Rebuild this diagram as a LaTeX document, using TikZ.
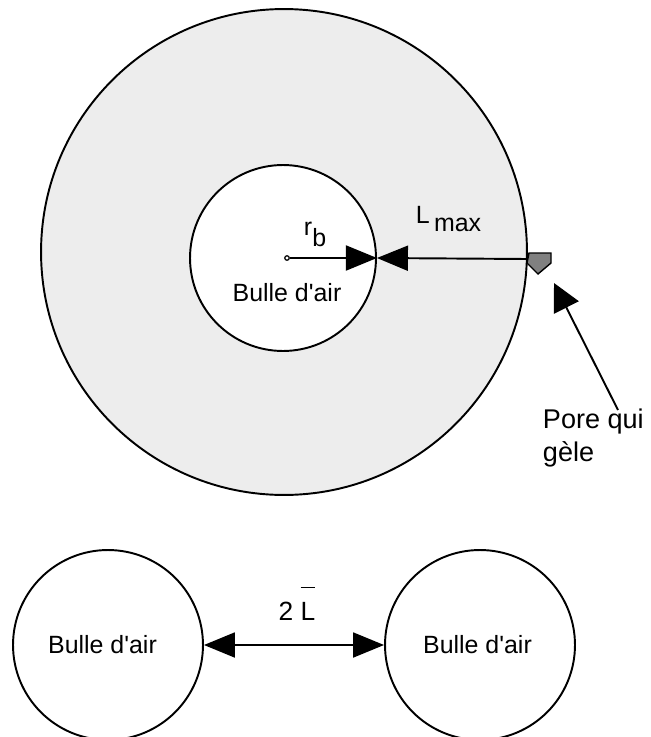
\documentclass[tikz,border=0pt]{standalone}
\usepackage{fontspec}
\setmainfont{Liberation Sans}
\usetikzlibrary{arrows.meta}

\begin{document}
\begin{tikzpicture}[x=0.02cm, y=-0.02cm, line width=1.1pt,
  every node/.style={font=\fontsize{14.2}{17}\selectfont},
  bulle/.style={circle, draw=black, fill=white, inner sep=0pt},
  fleche/.style={-{Triangle[length=0.62cm, width=0.5cm]}},
  doublefleche/.style={{Triangle[length=0.62cm, width=0.5cm]}-{Triangle[length=0.62cm, width=0.5cm]}}]

\useasboundingbox (0,0) rectangle (650,737);

% Pate de ciment autour de la bulle
\node (pate) [circle, draw=black, fill=black!7, minimum size=9.72cm] at (284,252) {};
\node (bulle) [bulle, minimum size=3.72cm] at (283,258) {};
\node (txtbulle) at (287,293) {Bulle d\textquotesingle air};

% Rayon de la bulle
\node (centre) [circle, draw=black, fill=white, inner sep=0pt, minimum size=0.09cm, line width=0.7pt] at (287,258) {};
\node (rb) [anchor=base west, inner sep=0pt] at (303,235) {r\raisebox{-0.24cm}{b}};
\draw[fleche] (centre) -- (bulle.east);

% Pore qui gele
\coordinate (pore) at (527,259);
\draw[fleche] (pore) -- (bulle.east);
\filldraw[fill=black!50, draw=black, line width=0.8pt] (pore) ++(2,-6) -- ++(22,0) -- ++(0,10) -- ++(-13,11) -- ++(-11,-11) -- cycle;
\node (lmax) [anchor=base west, inner sep=0pt] at (415,223) {L\,\raisebox{-0.16cm}{max}};

\node (txtpore) [anchor=north west, align=left, inner sep=0pt,
  font=\fontsize{15.4}{18.8}\selectfont] at (542,408) {Pore qui\\gèle};
\coordinate (queue) at (618,410);
\coordinate (pointe) at (554,283);
\draw[-{Triangle[length=0.55cm, width=0.55cm]}] (queue) -- (pointe);

% Deux bulles voisines
\node (bulleG) [bulle, minimum size=3.8cm] at (108,645) {\hspace*{-0.22cm}Bulle d\textquotesingle air};
\node (bulleD) [bulle, minimum size=3.8cm] at (480,645) {\hspace*{-0.1cm}Bulle d\textquotesingle air};
\draw[doublefleche] (bulleG) -- (bulleD);
\node (deuxL) [anchor=base, inner sep=0pt, font=\fontsize{15}{18}\selectfont] at (297,620) {2 $\overline{\hbox{\rule{0pt}{1.15em}L}}$};

\end{tikzpicture}
\end{document}
